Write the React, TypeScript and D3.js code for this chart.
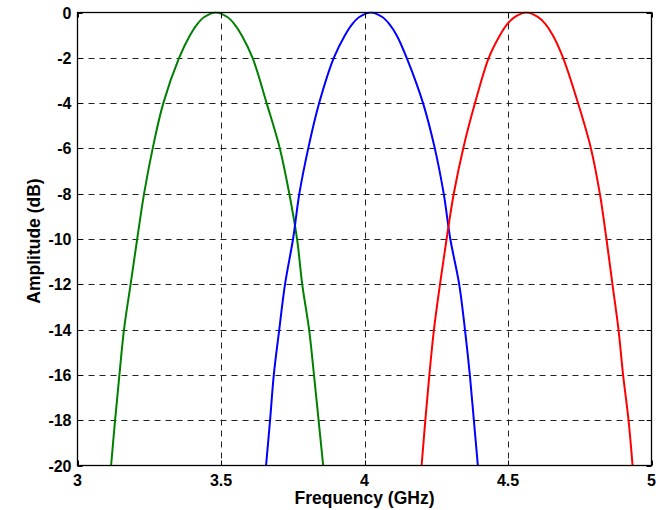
import React from 'react';
import * as d3 from 'd3';

// frequency (GHz) / amplitude (dB)
const greenFreq = [3.117, 3.131, 3.146, 3.162, 3.185, 3.208, 3.232, 3.262, 3.299, 3.354, 3.392, 3.418, 3.442, 3.482, 3.522, 3.546, 3.572, 3.610, 3.659, 3.705, 3.738, 3.765, 3.783, 3.807, 3.824, 3.840, 3.856];
const greenAmp = [-20, -18, -16, -14, -12, -10, -8, -6, -4, -2, -1, -0.5, -0.2, 0, -0.2, -0.5, -1, -2, -4, -6, -8, -10, -12, -14, -16, -18, -20];

const blueFreq = [3.657, 3.671, 3.684, 3.703, 3.723, 3.751, 3.773, 3.804, 3.842, 3.893, 3.932, 3.958, 3.982, 4.022, 4.062, 4.086, 4.112, 4.147, 4.204, 4.245, 4.276, 4.299, 4.330, 4.350, 4.367, 4.381, 4.395];
const blueAmp = [-20, -18, -16, -14, -12, -10, -8, -6, -4, -2, -1, -0.5, -0.2, 0, -0.2, -0.5, -1, -2, -4, -6, -8, -10, -12, -14, -16, -18, -20];

const redFreq = [4.199, 4.212, 4.226, 4.242, 4.263, 4.286, 4.311, 4.344, 4.385, 4.433, 4.472, 4.498, 4.523, 4.564, 4.605, 4.630, 4.656, 4.692, 4.744, 4.789, 4.820, 4.843, 4.864, 4.885, 4.901, 4.920, 4.934];
const redAmp = [-20, -18, -16, -14, -12, -10, -8, -6, -4, -2, -1, -0.5, -0.2, 0, -0.2, -0.5, -1, -2, -4, -6, -8, -10, -12, -14, -16, -18, -20];

const xTicks = [3, 3.5, 4, 4.5, 5];
const yTicks = [0, -2, -4, -6, -8, -10, -12, -14, -16, -18, -20];

const series = [
  { freq: greenFreq, amp: greenAmp, color: '#008000' },
  { freq: blueFreq, amp: blueAmp, color: '#0000ff' },
  { freq: redFreq, amp: redAmp, color: '#ff0000' },
];

export default function App() {
  const left = 77.5, right = 651.5, top = 12.5, bottom = 465.5;
  const x = d3.scaleLinear().domain([3, 5]).range([left, right]);
  const y = d3.scaleLinear().domain([-20, 0]).range([bottom, top]);

  const line = d3.line<[number, number]>()
    .x(d => x(d[0]))
    .y(d => y(d[1]))
    .curve(d3.curveCatmullRom.alpha(0.5));

  const font = 'Arial, "Liberation Sans", Helvetica, sans-serif';
  const px = (v: number) => Math.round(v) + 0.5;

  return (
    <svg width={658} height={510} style={{ position: 'absolute', left: 0, top: 0, background: '#fff' }}>
      <rect x={0} y={0} width={658} height={510} fill="#fff" />
      {/* grid */}
      <g stroke="#222" strokeWidth={1} strokeDasharray="6,5">
        {xTicks.slice(1, -1).map(t => (
          <line key={'gx' + t} x1={px(x(t))} x2={px(x(t))} y1={top} y2={bottom} />
        ))}
        {yTicks.slice(1, -1).map(t => (
          <line key={'gy' + t} x1={left} x2={right} y1={px(y(t))} y2={px(y(t))} />
        ))}
      </g>
      {/* curves */}
      <defs>
        <clipPath id="plot">
          <rect x={left} y={top - 1} width={right - left} height={bottom - top + 1} />
        </clipPath>
      </defs>
      <g clipPath="url(#plot)">
        {series.map((s, i) => (
          <path
            key={i}
            d={line(s.freq.map((f, j) => [f, s.amp[j]] as [number, number])) || ''}
            fill="none"
            stroke={s.color}
            strokeWidth={2}
          />
        ))}
      </g>
      {/* box and ticks */}
      <rect x={left} y={top} width={right - left} height={bottom - top} fill="none" stroke="#000" strokeWidth={1.3} />
      <g stroke="#000" strokeWidth={1}>
        {xTicks.map(t => (
          <g key={'tx' + t}>
            <line x1={px(x(t))} x2={px(x(t))} y1={bottom} y2={bottom - 5} />
            <line x1={px(x(t))} x2={px(x(t))} y1={top} y2={top + 5} />
          </g>
        ))}
        {yTicks.map(t => (
          <g key={'ty' + t}>
            <line x1={left} x2={left + 5} y1={px(y(t))} y2={px(y(t))} />
            <line x1={right} x2={right - 5} y1={px(y(t))} y2={px(y(t))} />
          </g>
        ))}
      </g>
      {/* tick labels */}
      <g fontFamily={font} fontWeight="bold" fontSize={16} fill="#000">
        {xTicks.map(t => (
          <text key={'lx' + t} x={x(t)} y={bottom + 20} textAnchor="middle">{t}</text>
        ))}
        {yTicks.map(t => (
          <text key={'ly' + t} x={left - 6} y={y(t) + 6} textAnchor="end">{t}</text>
        ))}
      </g>
      {/* axis titles */}
      <text x={(left + right) / 2} y={504} textAnchor="middle" fontFamily={font} fontWeight="bold" fontSize={17.5}>
        Frequency (GHz)
      </text>
      <text
        transform={`translate(40,241) rotate(-90)`}
        textAnchor="middle"
        fontFamily={font}
        fontWeight="bold"
        fontSize={17.5}
      >
        Amplitude (dB)
      </text>
    </svg>
  );
}
